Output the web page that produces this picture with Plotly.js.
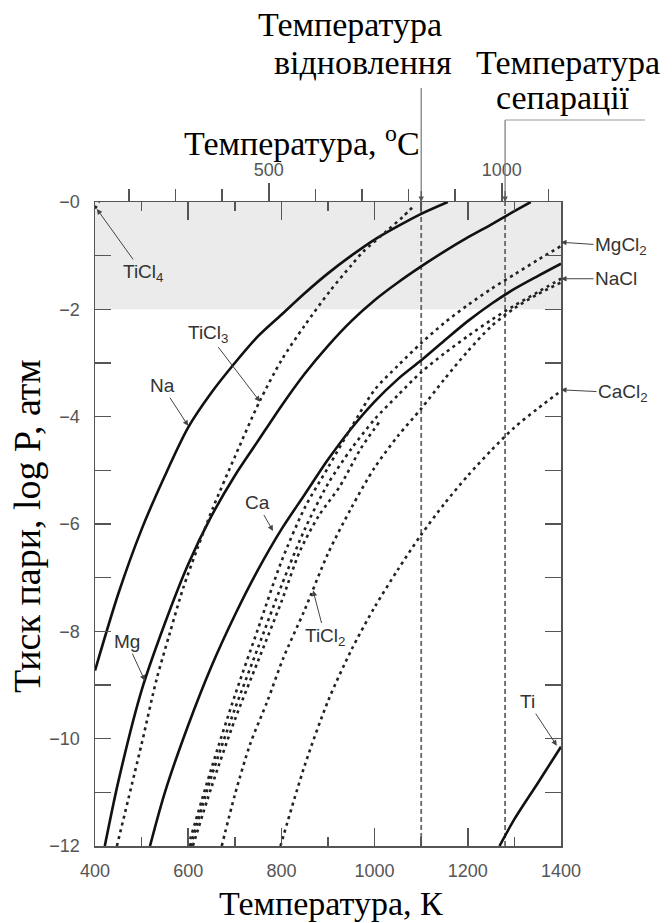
<!DOCTYPE html>
<html><head><meta charset="utf-8">
<script src="https://cdn.plot.ly/plotly-3.0.1.min.js"></script>
<style>html,body{margin:0;padding:0;background:#fff}</style>
</head><body><div id="chart" style="width:672px;height:923px"></div>
<script>
// ---- data (T in K, log P in atm) ----
const naT = [400, 450, 500, 550, 600, 650, 700, 750, 800, 850, 900, 950, 1000, 1050, 1100, 1157];
const naP = [-8.73, -7.3, -6.1, -5.1, -4.2, -3.55, -3.0, -2.5, -2.1, -1.7, -1.33, -1.0, -0.7, -0.45, -0.22, 0];
const mgT = [421, 450, 500, 550, 600, 650, 700, 750, 800, 850, 900, 950, 1000, 1050, 1100, 1150, 1200, 1250, 1300, 1335];
const mgP = [-12, -10.8, -9.1, -7.85, -6.75, -5.85, -5.1, -4.45, -3.8, -3.2, -2.68, -2.22, -1.83, -1.5, -1.2, -0.92, -0.66, -0.42, -0.17, 0];
const caT = [518, 550, 600, 650, 700, 750, 800, 850, 900, 950, 1000, 1050, 1100, 1150, 1200, 1250, 1300, 1350, 1400];
const caP = [-12, -11.0, -9.75, -8.65, -7.7, -6.85, -6.1, -5.45, -4.8, -4.22, -3.72, -3.3, -2.95, -2.58, -2.22, -1.9, -1.62, -1.38, -1.15];
const tiT = [1268, 1300, 1350, 1400];
const tiP = [-12, -11.5, -10.83, -10.15];
const ticl4T = [400, 409];
const ticl4P = [-0.12, 0];
const ticl3T = [447, 500, 532, 560, 589, 620, 653, 700, 753, 800, 850, 904, 950, 975, 1026, 1060, 1087];
const ticl3P = [-12, -10.1, -8.9, -8.05, -7.2, -6.45, -5.7, -4.75, -3.72, -2.95, -2.3, -1.66, -1.18, -0.93, -0.54, -0.28, -0.05];
const ticl2T = [672, 700, 733, 770, 804, 850, 900, 950, 1000, 1050, 1100, 1150, 1200, 1250, 1300, 1350, 1400];
const ticl2P = [-12, -11.05, -10.1, -9.3, -8.5, -7.6, -6.55, -5.7, -4.95, -4.36, -3.85, -3.3, -2.78, -2.32, -1.98, -1.72, -1.5];
const mgcl2T = [600, 650, 700, 750, 800, 850, 900, 950, 1000, 1050, 1100, 1150, 1200, 1250, 1300, 1350, 1400];
const mgcl2P = [-12, -10.55, -9.2, -7.95, -6.7, -5.7, -4.95, -4.2, -3.5, -3.05, -2.63, -2.25, -1.92, -1.62, -1.35, -1.08, -0.82];
const naclT = [605, 650, 700, 750, 800, 850, 900, 950, 1000, 1050, 1100, 1150, 1200, 1250, 1300, 1350, 1400];
const naclP = [-12, -10.7, -9.45, -8.3, -7.15, -6.1, -5.25, -4.6, -4.05, -3.6, -3.17, -2.82, -2.5, -2.2, -1.93, -1.68, -1.43];
const extraT = [610, 650, 700, 750, 800, 840, 880, 926, 970, 1010];
const extraP = [-12, -10.9, -9.65, -8.55, -7.45, -6.5, -5.85, -5.29, -4.6, -4.1];
const cacl2T = [798, 850, 900, 950, 1000, 1050, 1100, 1150, 1200, 1250, 1300, 1350, 1400];
const cacl2P = [-12, -10.5, -9.3, -8.35, -7.55, -6.85, -6.2, -5.62, -5.1, -4.63, -4.2, -3.85, -3.52];

const xTickVals = [400, 600, 800, 1000, 1200, 1400];
const xMinorVals = [500, 700, 900, 1100, 1300];
const cTickVals = [500, 1000];
const cMinorVals = [200, 300, 400, 600, 700, 800, 900, 1100];
const yTickVals = [-12, -11, -10, -9, -8, -7, -6, -5, -4, -3, -2, -1, 0];
const yTickText = ['−12', '', '−10', '', '−8', '', '−6', '', '−4', '', '−2', '', '−0'];
const tReduction = 1100;
const tSeparation = 1280;

// ---- layout geometry ----
const W = 672, H = 923, L = 95, R = 111, T = 202, B = 77;
const pw = W - L - R, ph = H - T - B;
const px = x => (x - L) / pw;
const py = y => (H - B - y) / ph;

const solid = {color: '#111', width: 2.6};
const dotted = {color: '#222', width: 2.6, dash: '3px,4px'};
function tr(x, y, line) {
  return {x: x, y: y, mode: 'lines', line: Object.assign({shape: 'spline', smoothing: 0.8}, line),
          hoverinfo: 'skip', showlegend: false};
}
const data = [
  tr(naT, naP, solid), tr(mgT, mgP, solid), tr(caT, caP, solid), tr(tiT, tiP, solid),
  tr(ticl4T, ticl4P, dotted), tr(ticl3T, ticl3P, dotted), tr(ticl2T, ticl2P, dotted),
  tr(mgcl2T, mgcl2P, dotted), tr(naclT, naclP, dotted), tr(extraT, extraP, dotted),
  tr(cacl2T, cacl2P, dotted),
  {x: [127, 1127], y: [null, null], xaxis: 'x2', mode: 'lines', showlegend: false, hoverinfo: 'skip'}
];

const tickFont = {family: 'Liberation Sans, Arial, sans-serif', size: 18, color: '#555'};
const lblFont = {family: 'Liberation Sans, Arial, sans-serif', size: 19, color: '#333'};
const serif = {family: 'Liberation Serif, Times New Roman, serif', size: 34, color: '#000'};
const serifY = {family: 'Liberation Serif, Times New Roman, serif', size: 38, color: '#000'};

function lbl(text, x, y, ax, ay) {
  return {text: text, x: x, y: y, xref: 'x', yref: 'y', ax: ax, ay: ay, showarrow: true,
          arrowhead: 2, arrowsize: 1.1, arrowwidth: 1, arrowcolor: '#444', standoff: 0,
          font: lblFont};
}
function ptxt(text, x, y, font) {
  return {text: text, x: px(x), y: py(y), xref: 'paper', yref: 'paper', showarrow: false,
          xanchor: 'center', yanchor: 'middle', font: font};
}

const annotations = [
  lbl('TiCl<sub>4</sub>', 404, -0.13, 46, 64),
  lbl('TiCl<sub>3</sub>', 754, -3.72, -52, -68),
  lbl('Na', 600, -4.17, -26, -40),
  lbl('Ca', 782, -6.13, -16, -28),
  lbl('Mg', 507, -8.92, -18, -39),
  lbl('TiCl<sub>2</sub>', 868, -7.24, 12, 46),
  lbl('Ti', 1391, -10.13, -29, -44),
  lbl('MgCl<sub>2</sub>', 1400, -0.75, 60, 4),
  lbl('NaCl', 1400, -1.43, 55, 0),
  lbl('CaCl<sub>2</sub>', 1400, -3.5, 62, 3),
  // arrowheads for the two temperature markers
  {text: ' ', font: {size: 2}, x: tReduction, y: 0, xref: 'x', yref: 'y', ax: 0, ay: -14, showarrow: true,
   arrowhead: 2, arrowsize: 0.9, arrowwidth: 1.2, arrowcolor: '#555', standoff: 0},
  {text: ' ', font: {size: 2}, x: tSeparation, y: 0, xref: 'x', yref: 'y', ax: 0, ay: -14, showarrow: true,
   arrowhead: 2, arrowsize: 0.9, arrowwidth: 1.2, arrowcolor: '#555', standoff: 0},
  ptxt('Температура', 350, 25, serif),
  ptxt('відновлення', 363, 63, serif),
  ptxt('Температура', 568, 63, serif),
  ptxt('сепарації', 563, 98, serif),
  ptxt('Температура, <sup>o</sup>C', 302, 141, serif),
  ptxt('Температура, К', 331, 903, serif),
  Object.assign(ptxt('Тиск пари, log P, атм', 27, 527, serifY), {textangle: -90})
];

const shapes = [
  {type: 'rect', xref: 'x', yref: 'y', x0: 400, x1: 1400, y0: -2, y1: 0, fillcolor: '#ebebeb',
   line: {width: 0}, layer: 'below'},
  {type: 'line', xref: 'x', yref: 'y', x0: tReduction, x1: tReduction, y0: -12, y1: 0,
   line: {color: '#666', width: 1.8, dash: '5px,3px'}, layer: 'below'},
  {type: 'line', xref: 'x', yref: 'y', x0: tSeparation, x1: tSeparation, y0: -12, y1: 0,
   line: {color: '#666', width: 1.8, dash: '5px,3px'}, layer: 'below'},
  {type: 'line', xref: 'paper', yref: 'paper', x0: 0.7, x1: 0.7, y0: py(88), y1: 1,
   line: {color: '#777', width: 1.2}},
  {type: 'line', xref: 'paper', yref: 'paper', x0: 0.88, x1: 0.88, y0: py(120), y1: 1,
   line: {color: '#777', width: 1.2}},
  {type: 'line', xref: 'paper', yref: 'paper', x0: 0.88, x1: px(645), y0: py(120), y1: py(120),
   line: {color: '#999', width: 1.2}}
];

const layout = {
  width: W, height: H,
  margin: {l: L, r: R, t: T, b: B, pad: 0},
  paper_bgcolor: '#fff', plot_bgcolor: '#fff',
  showlegend: false,
  xaxis: {
    range: [400, 1400], tickmode: 'array', tickvals: xTickVals, ticks: 'inside', ticklen: 18,
    tickwidth: 1.5, tickcolor: '#555', showline: true, linecolor: '#555', linewidth: 1.5,
    mirror: 'ticks', showgrid: false, zeroline: false, tickfont: tickFont, ticklabelstandoff: 8,
    minor: {tickmode: 'array', tickvals: xMinorVals, ticks: 'inside', ticklen: 9, tickwidth: 1.5,
            tickcolor: '#555', showgrid: false}
  },
  xaxis2: {
    overlaying: 'x', side: 'top', anchor: 'y', range: [127, 1127], tickmode: 'array',
    tickvals: cTickVals, ticks: 'outside', ticklen: 18, tickwidth: 1.5, tickcolor: '#555',
    showline: false, showgrid: false, zeroline: false, tickfont: tickFont,
    minor: {tickmode: 'array', tickvals: cMinorVals, ticks: 'outside', ticklen: 12, tickwidth: 1.5,
            tickcolor: '#555', showgrid: false}
  },
  yaxis: {
    range: [-12, 0], tickmode: 'array', tickvals: yTickVals, ticktext: yTickText, ticks: 'inside',
    ticklen: 16, tickwidth: 1.5, tickcolor: '#555', showline: true, linecolor: '#555', linewidth: 1.5,
    mirror: 'ticks', showgrid: false, zeroline: false, tickfont: tickFont, ticklabelstandoff: 10
  },
  annotations: annotations,
  shapes: shapes
};

Plotly.newPlot('chart', data, layout, {staticPlot: true, displayModeBar: false});
</script>
</body></html>
